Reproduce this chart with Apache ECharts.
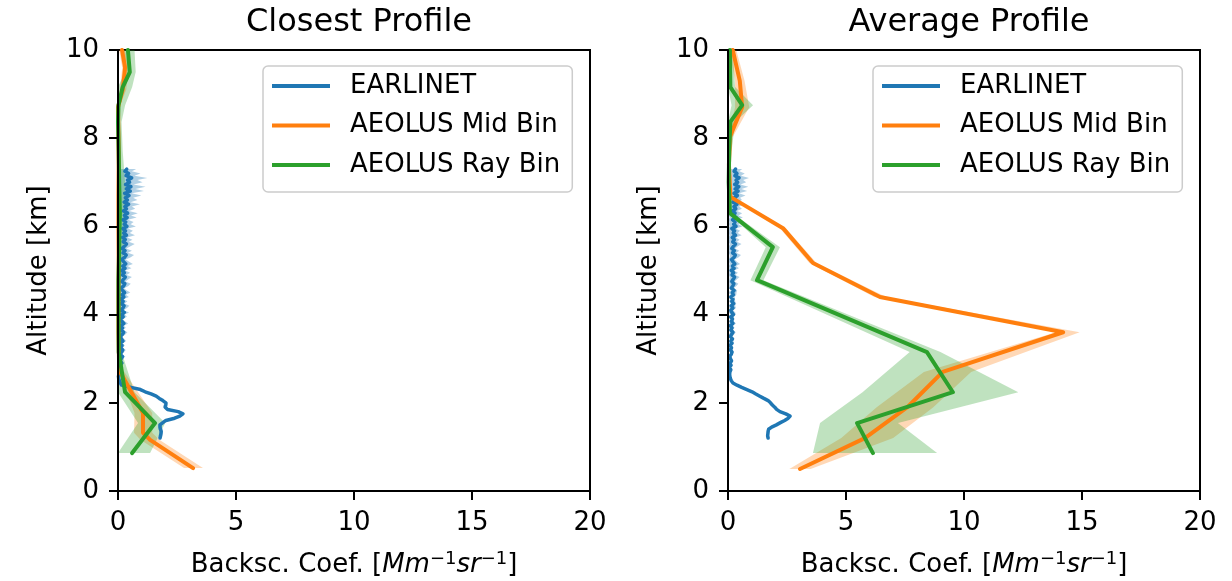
<!DOCTYPE html>
<html>
<head>
<meta charset="utf-8">
<script src="https://cdn.jsdelivr.net/npm/echarts@6/dist/echarts.min.js"></script>
<style>
  html, body { margin: 0; padding: 0; background: #ffffff; }
  #chart { width: 1232px; height: 581px; }
</style>
</head>
<body>
<div id="chart"></div>
<script>
// Backscatter coefficient profiles: EARLINET lidar vs AEOLUS (Mid bin / Rayleigh bin)

const PANEL_TITLES = ['Closest Profile', 'Average Profile'];
const SERIES_NAMES = ['EARLINET', 'AEOLUS Mid Bin', 'AEOLUS Ray Bin'];
const X_TICKS = [0, 5, 10, 15, 20];
const Y_TICKS = [0, 2, 4, 6, 8, 10];

// EARLINET altitude grid [km]
const earlinetAlt = [
  1.20,1.25,1.30,1.35,1.40,1.45,1.50,1.55,1.60,1.65,
  1.70,1.75,1.80,1.85,1.90,1.95,2.00,2.05,2.10,2.15,
  2.20,2.25,2.30,2.35,2.40,2.45,2.50,2.55,2.60,2.65,
  2.70,2.75,2.80,2.85,2.90,2.95,3.00,3.05,3.10,3.15,
  3.20,3.25,3.30,3.35,3.40,3.45,3.50,3.55,3.60,3.65,
  3.70,3.75,3.80,3.85,3.90,3.95,4.00,4.05,4.10,4.15,
  4.20,4.25,4.30,4.35,4.40,4.45,4.50,4.55,4.60,4.65,
  4.70,4.75,4.80,4.85,4.90,4.95,5.00,5.05,5.10,5.15,
  5.20,5.25,5.30,5.35,5.40,5.45,5.50,5.55,5.60,5.65,
  5.70,5.75,5.80,5.85,5.90,5.95,6.00,6.05,6.10,6.15,
  6.20,6.25,6.30,6.35,6.40,6.45,6.50,6.55,6.60,6.65,
  6.70,6.75,6.80,6.85,6.90,6.95,7.00,7.05,7.10,7.15,
  7.20,7.25,7.30
];

// Closest profile: EARLINET backscatter and its uncertainty
const closestEarlinet = [
  1.78,1.80,1.82,1.83,1.80,1.78,1.78,1.90,2.03,2.40,
  2.62,2.75,2.55,2.10,2.00,2.02,2.03,1.90,1.75,1.62,
  1.40,1.15,0.95,0.55,0.15,0.10,0.06,0.03,0.02,0.05,
  0.10,0.06,0.14,0.08,0.16,0.10,0.13,0.19,0.09,0.15,
  0.20,0.11,0.17,0.09,0.21,0.14,0.10,0.18,0.24,0.12,
  0.19,0.13,0.25,0.16,0.10,0.22,0.15,0.27,0.12,0.21,
  0.26,0.14,0.22,0.11,0.25,0.17,0.28,0.19,0.13,0.24,
  0.29,0.16,0.23,0.31,0.18,0.27,0.15,0.30,0.20,0.33,
  0.24,0.16,0.28,0.35,0.21,0.30,0.17,0.27,0.36,0.22,
  0.31,0.19,0.36,0.24,0.32,0.20,0.38,0.26,0.33,0.21,
  0.39,0.27,0.41,0.23,0.36,0.29,0.45,0.26,0.40,0.31,
  0.47,0.28,0.52,0.35,0.55,0.32,0.49,0.40,0.58,0.34,
  0.45,0.29,0.37
];
const closestEarlinetErr = [
  0.08,0.08,0.07,0.08,0.08,0.07,0.08,0.08,0.09,0.09,
  0.10,0.10,0.09,0.09,0.08,0.08,0.08,0.08,0.07,0.07,
  0.07,0.06,0.06,0.06,0.05,0.05,0.05,0.05,0.05,0.06,
  0.08,0.06,0.09,0.07,0.10,0.08,0.09,0.12,0.08,0.11,
  0.13,0.09,0.12,0.10,0.14,0.11,0.09,0.13,0.16,0.10,
  0.14,0.12,0.18,0.13,0.10,0.16,0.13,0.20,0.12,0.17,
  0.22,0.14,0.18,0.12,0.21,0.16,0.24,0.17,0.13,0.20,
  0.25,0.16,0.21,0.28,0.18,0.24,0.16,0.27,0.20,0.30,
  0.23,0.17,0.26,0.33,0.21,0.29,0.18,0.26,0.35,0.24,
  0.30,0.20,0.36,0.26,0.31,0.22,0.38,0.27,0.33,0.21,
  0.40,0.28,0.43,0.24,0.37,0.30,0.48,0.27,0.42,0.33,
  0.52,0.30,0.58,0.38,0.62,0.34,0.55,0.42,0.66,0.36,
  0.50,0.30,0.40
];

// Average profile: EARLINET backscatter and its uncertainty
const averageEarlinet = [
  1.70,1.68,1.69,1.70,1.72,1.85,2.05,2.22,2.40,2.55,
  2.63,2.45,2.20,2.06,1.98,1.88,1.80,1.70,1.52,1.35,
  1.18,1.02,0.80,0.58,0.38,0.21,0.14,0.10,0.08,0.07,
  0.08,0.12,0.06,0.13,0.09,0.15,0.10,0.07,0.14,0.17,
  0.10,0.15,0.08,0.17,0.12,0.19,0.10,0.15,0.21,0.12,
  0.17,0.10,0.21,0.14,0.19,0.11,0.23,0.16,0.12,0.21,
  0.14,0.24,0.16,0.21,0.12,0.23,0.18,0.26,0.14,0.20,
  0.25,0.16,0.22,0.28,0.17,0.24,0.14,0.26,0.19,0.29,
  0.21,0.15,0.26,0.31,0.19,0.27,0.16,0.23,0.32,0.20,
  0.27,0.18,0.32,0.22,0.28,0.16,0.34,0.24,0.30,0.19,
  0.35,0.23,0.30,0.19,0.33,0.25,0.38,0.21,0.31,0.27,
  0.40,0.25,0.43,0.30,0.46,0.28,0.41,0.34,0.47,0.29,
  0.38,0.26,0.32
];
const averageEarlinetErr = [
  0.06,0.06,0.05,0.06,0.06,0.06,0.07,0.07,0.08,0.08,
  0.08,0.08,0.07,0.07,0.07,0.06,0.06,0.06,0.06,0.05,
  0.05,0.05,0.05,0.05,0.04,0.04,0.04,0.04,0.04,0.05,
  0.06,0.05,0.07,0.05,0.08,0.06,0.07,0.09,0.06,0.08,
  0.10,0.07,0.09,0.08,0.11,0.08,0.07,0.10,0.12,0.08,
  0.11,0.09,0.13,0.10,0.08,0.12,0.10,0.15,0.09,0.13,
  0.16,0.11,0.14,0.09,0.16,0.12,0.18,0.13,0.10,0.15,
  0.19,0.12,0.16,0.21,0.14,0.18,0.12,0.20,0.15,0.22,
  0.17,0.13,0.19,0.24,0.16,0.21,0.14,0.19,0.25,0.18,
  0.22,0.15,0.26,0.19,0.23,0.16,0.27,0.20,0.24,0.17,
  0.28,0.21,0.30,0.19,0.26,0.22,0.32,0.20,0.28,0.24,
  0.34,0.22,0.38,0.27,0.40,0.25,0.36,0.30,0.42,0.26,
  0.33,0.22,0.28
];

// AEOLUS Mid bin, closest profile
const closestMidAlt = [0.52, 1.16, 1.32, 1.77, 2.74, 3.60, 4.40, 5.20, 6.00, 6.70, 7.40, 8.05, 8.70, 9.10, 9.60, 10.00];
const closestMid    = [3.18, 1.36, 1.06, 1.06, 0.05, 0.02, 0.02, 0.03, 0.02, 0.02, 0.03, 0.02, 0.00, 0.20, 0.30, 0.17];
const closestMidLo  = [2.80, 0.95, 0.68, 0.70, 0.00, 0.00, 0.00, 0.00, 0.00, 0.00, 0.00, 0.00, 0.00, 0.08, 0.18, 0.05];
const closestMidHi  = [3.60, 1.75, 1.45, 1.45, 0.22, 0.06, 0.06, 0.08, 0.06, 0.06, 0.08, 0.06, 0.05, 0.35, 0.45, 0.30];

// AEOLUS Rayleigh bin, closest profile
const closestRayAlt = [0.86, 1.54, 2.24, 3.15, 4.78, 5.53, 6.30, 7.00, 7.70, 8.37, 8.75, 9.16, 9.50, 10.00];
const closestRay    = [0.60, 1.57, 0.30, 0.03, 0.02, 0.05, 0.08, 0.05, 0.03, 0.00, 0.02, 0.20, 0.50, 0.42];
const closestRayLo  = [0.00, 0.85, 0.00, 0.00, 0.00, 0.00, 0.00, 0.00, 0.00, 0.00, 0.00, 0.00, 0.30, 0.25];
const closestRayHi  = [1.36, 2.00, 0.70, 0.15, 0.10, 0.25, 0.30, 0.30, 0.20, 0.15, 0.30, 0.60, 0.75, 0.70];

// AEOLUS Mid bin, average profile
const averageMidAlt = [0.50, 1.20, 1.90, 2.70, 3.60, 4.40, 5.17, 5.96, 6.67, 7.40, 8.03, 8.70, 9.30, 10.00];
const averageMid    = [3.05, 5.80, 7.60, 9.10, 14.20, 6.44, 3.60, 2.33, 0.10, 0.04, 0.08, 0.60, 0.50, 0.20];
const averageMidLo  = [2.60, 4.80, 6.30, 8.30, 13.90, 6.20, 3.45, 2.20, 0.02, 0.00, 0.00, 0.30, 0.30, 0.05];
const averageMidHi  = [3.50, 7.00, 8.70, 10.30, 14.90, 6.70, 3.75, 2.45, 0.20, 0.10, 0.20, 0.90, 0.70, 0.35];

// AEOLUS Rayleigh bin, average profile
const averageRayAlt = [0.86, 1.54, 2.24, 3.15, 4.78, 5.53, 6.30, 7.00, 7.70, 8.37, 8.75, 9.16, 10.00];
const averageRay    = [6.14, 5.47, 9.53, 8.43, 1.23, 1.90, 0.08, 0.03, 0.05, 0.10, 0.60, 0.10, 0.08];
const averageRayLo  = [3.60, 3.90, 5.70, 7.70, 0.95, 1.60, 0.00, 0.00, 0.00, 0.00, 0.15, 0.00, 0.00];
const averageRayHi  = [8.86, 7.20, 12.30, 9.00, 1.50, 2.20, 0.20, 0.10, 0.15, 0.30, 1.06, 0.30, 0.20];

const COLORS = ['#1f77b4', '#ff7f0e', '#2ca02c'];
const BAND_COLORS = ['rgba(31,119,180,0.35)', 'rgba(255,127,14,0.3)', 'rgba(44,160,44,0.3)'];
const FONT = 'DejaVu Sans';

const GRID_LEFT = [118, 728];
const GRID_TOP = 50;
const GRID_W = 472;
const GRID_H = 441;

function pairs(xs, ys) {
  return xs.map((x, i) => [x, ys[i]]);
}

function lineSeries(name, gi, values, alts, color, width) {
  return {
    type: 'line', name: name, xAxisIndex: gi, yAxisIndex: gi,
    data: pairs(values, alts), symbol: 'none', clip: true, z: 4,
    lineStyle: { color: color, width: width, join: 'round', cap: 'round' },
    itemStyle: { color: color }, animation: false
  };
}

// shaded uncertainty band between lo and hi (filled horizontally at each altitude)
function bandSeries(gi, alts, lo, hi, fill) {
  return {
    type: 'custom', xAxisIndex: gi, yAxisIndex: gi, clip: true, silent: true, z: 2,
    data: [[0, 0]], encode: { x: 0, y: 1 }, animation: false,
    renderItem: function (params, api) {
      const pts = [];
      for (let i = 0; i < alts.length; i++) pts.push(api.coord([Math.max(lo[i], -1), alts[i]]));
      for (let i = alts.length - 1; i >= 0; i--) pts.push(api.coord([hi[i], alts[i]]));
      return { type: 'polygon', shape: { points: pts }, style: { fill: fill, stroke: null } };
    }
  };
}

const closestEarlinetLo = closestEarlinet.map((v, i) => v - closestEarlinetErr[i]);
const closestEarlinetHi = closestEarlinet.map((v, i) => v + closestEarlinetErr[i]);
const averageEarlinetLo = averageEarlinet.map((v, i) => v - averageEarlinetErr[i]);
const averageEarlinetHi = averageEarlinet.map((v, i) => v + averageEarlinetErr[i]);

const panels = [
  {
    earl: closestEarlinet, earlLo: closestEarlinetLo, earlHi: closestEarlinetHi,
    midAlt: closestMidAlt, mid: closestMid, midLo: closestMidLo, midHi: closestMidHi,
    rayAlt: closestRayAlt, ray: closestRay, rayLo: closestRayLo, rayHi: closestRayHi
  },
  {
    earl: averageEarlinet, earlLo: averageEarlinetLo, earlHi: averageEarlinetHi,
    midAlt: averageMidAlt, mid: averageMid, midLo: averageMidLo, midHi: averageMidHi,
    rayAlt: averageRayAlt, ray: averageRay, rayLo: averageRayLo, rayHi: averageRayHi
  }
];

const series = [];
panels.forEach((p, gi) => {
  series.push(bandSeries(gi, earlinetAlt, p.earlLo, p.earlHi, BAND_COLORS[0]));
  series.push(bandSeries(gi, p.midAlt, p.midLo, p.midHi, BAND_COLORS[1]));
  series.push(bandSeries(gi, p.rayAlt, p.rayLo, p.rayHi, BAND_COLORS[2]));
  series.push(lineSeries(SERIES_NAMES[0], gi, p.earl, earlinetAlt, COLORS[0], 3.5));
  series.push(lineSeries(SERIES_NAMES[1], gi, p.mid, p.midAlt, COLORS[1], 4));
  series.push(lineSeries(SERIES_NAMES[2], gi, p.ray, p.rayAlt, COLORS[2], 4));
});

const axisText = { color: '#000', fontFamily: FONT, fontSize: 26 };

const option = {
  backgroundColor: '#ffffff',
  animation: false,
  title: PANEL_TITLES.map((t, gi) => ({
    text: t, left: GRID_LEFT[gi] + GRID_W / 2, top: 2, textAlign: 'center',
    textStyle: { color: '#000', fontFamily: FONT, fontSize: 32, fontWeight: 'normal' }
  })),
  legend: [0, 1].map(gi => ({
    data: SERIES_NAMES, orient: 'vertical',
    left: GRID_LEFT[gi] + 145, top: 66,
    icon: 'rect', itemWidth: 58, itemHeight: 4, itemGap: 9.5,
    padding: [5, 12, 12, 9],
    backgroundColor: '#ffffff', borderColor: '#cccccc', borderWidth: 1.5, borderRadius: 5,
    textStyle: { color: '#000', fontFamily: FONT, fontSize: 26, lineHeight: 30, padding: [0, 0, 0, 15] },
    selectedMode: false, z: 10
  })),
  grid: [0, 1].map(gi => ({
    left: GRID_LEFT[gi], top: GRID_TOP, width: GRID_W, height: GRID_H,
    outerBoundsMode: 'none', containLabel: false,
    show: true, borderColor: '#000', borderWidth: 2, backgroundColor: 'transparent'
  })),
  xAxis: [0, 1].map(gi => ({
    gridIndex: gi, type: 'value',
    min: X_TICKS[0], max: X_TICKS[X_TICKS.length - 1], interval: X_TICKS[1] - X_TICKS[0],
    axisLine: { show: true, onZero: false, lineStyle: { color: '#000', width: 2 } },
    axisTick: { show: true, length: 9, lineStyle: { color: '#000', width: 2 } },
    axisLabel: Object.assign({ margin: 19 }, axisText),
    splitLine: { show: false },
    name: '{n|Backsc. Coef. [}{i|Mm}{s|−1}{i|sr}{s|−1}{n|]}',
    nameLocation: 'middle', nameGap: 59,
    nameTextStyle: {
      rich: {
        n: { color: '#000', fontFamily: FONT, fontSize: 26, lineHeight: 30 },
        i: { color: '#000', fontFamily: FONT, fontSize: 26, fontStyle: 'italic', lineHeight: 30 },
        s: { color: '#000', fontFamily: FONT, fontSize: 18, lineHeight: 16, verticalAlign: 'top' }
      }
    },
    z: 5
  })),
  yAxis: [0, 1].map(gi => ({
    gridIndex: gi, type: 'value',
    min: Y_TICKS[0], max: Y_TICKS[Y_TICKS.length - 1], interval: Y_TICKS[1] - Y_TICKS[0],
    axisLine: { show: true, onZero: false, lineStyle: { color: '#000', width: 2 } },
    axisTick: { show: true, length: 9, lineStyle: { color: '#000', width: 2 } },
    axisLabel: Object.assign({ margin: 19 }, axisText),
    splitLine: { show: false },
    name: 'Altitude [km]', nameLocation: 'middle', nameGap: 66, nameRotate: 90,
    nameTextStyle: { color: '#000', fontFamily: FONT, fontSize: 26 },
    z: 5
  })),
  series: series
};

const chart = echarts.init(document.getElementById('chart'), null, { renderer: 'canvas' });
chart.setOption(option);
</script>
</body>
</html>
